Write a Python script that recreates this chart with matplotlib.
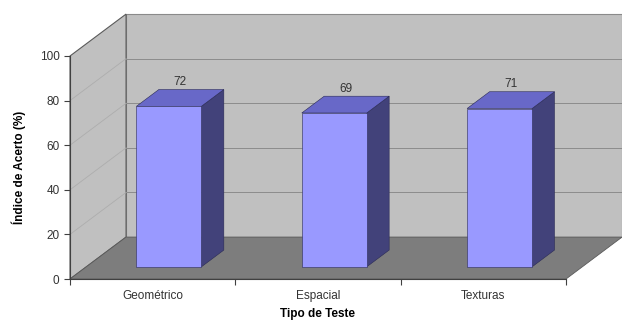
import matplotlib.pyplot as plt
from matplotlib.patches import Polygon

plt.rcParams['font.family'] = ['Liberation Sans', 'DejaVu Sans']

categories = ['Geométrico', 'Espacial', 'Texturas']
values = [72, 69, 71]
yticks = [0, 20, 40, 60, 80, 100]

# fake 3d depth (in data units) and bar placement
DX = 0.339
DY = 18.8
f0, f1 = 0.29, 0.69
bw = 0.393

fig = plt.figure(figsize=(6.22, 3.2), dpi=100)
ax = fig.add_axes([70 / 622, 41 / 320, 496 / 622, 223 / 320])
ax.set_xlim(0, 3)
ax.set_ylim(0, 100)
ax.patch.set_visible(False)

wall = '#c0c0c0'
n = len(categories)

### walls and floor ###
ax.add_patch(Polygon([(DX, DY), (n + DX, DY), (n + DX, 100 + DY), (DX, 100 + DY)],
                     closed=True, fc=wall, ec='#8a8a8a', lw=0.8, clip_on=False, zorder=0))
ax.add_patch(Polygon([(0, 0), (0, 100), (DX, 100 + DY), (DX, DY)],
                     closed=True, fc=wall, ec='#5a5a5a', lw=0.8, clip_on=False, zorder=0))
ax.add_patch(Polygon([(0, 0), (n, 0), (n + DX, DY), (DX, DY)],
                     closed=True, fc='#7d7d7d', ec='#5a5a5a', lw=0.6, clip_on=False, zorder=1))

### gridlines ###
for v in yticks[1:-1]:
    ax.plot([DX, n + DX], [v + DY, v + DY], color='#8c8c8c', lw=0.7, clip_on=False, zorder=0.5)
    ax.plot([0, DX], [v, v + DY], color='#adadad', lw=0.6, clip_on=False, zorder=0.5)

### bars ###
for i, v in enumerate(values):
    x0 = i + 0.5 - bw / 2 + f0 * DX
    x1 = x0 + bw
    y0 = f0 * DY
    ddx = (f1 - f0) * DX
    ddy = (f1 - f0) * DY
    front = [(x0, y0), (x1, y0), (x1, y0 + v), (x0, y0 + v)]
    side = [(x1, y0), (x1 + ddx, y0 + ddy), (x1 + ddx, y0 + v + ddy), (x1, y0 + v)]
    top = [(x0, y0 + v), (x1, y0 + v), (x1 + ddx, y0 + v + ddy), (x0 + ddx, y0 + v + ddy)]
    ax.add_patch(Polygon(side, closed=True, fc='#42427a', ec='#2a2a55', lw=0.4, clip_on=False, zorder=3))
    ax.add_patch(Polygon(top, closed=True, fc='#6868c8', ec='#2a2a55', lw=0.4, clip_on=False, zorder=3))
    ax.add_patch(Polygon(front, closed=True, fc='#9999ff', ec='#2a2a55', lw=0.4, clip_on=False, zorder=3))
    ax.annotate(str(v), (i + 0.5 + (f0 + f1) / 2 * DX, v + f1 * DY), xytext=(0, 1),
                textcoords='offset points', ha='center', va='bottom', fontsize=8.5,
                color='#333333', annotation_clip=False)

### axes styling ###
for s in ['top', 'right']:
    ax.spines[s].set_visible(False)
ax.spines['left'].set_color('#404040')
ax.spines['bottom'].set_color('#404040')
ax.spines['left'].set_zorder(5)
ax.spines['bottom'].set_zorder(5)
ax.set_yticks(yticks)
ax.set_xticks(range(n + 1))
ax.set_xticklabels([])
ax.set_xticks([i + 0.5 for i in range(n)], minor=True)
ax.set_xticklabels(categories, minor=True)
ax.tick_params(axis='x', which='minor', length=0, pad=8)
ax.tick_params(axis='both', which='major', length=4, color='#404040', labelsize=8.5, labelcolor='#333333')
ax.tick_params(axis='x', which='minor', labelsize=8.5, labelcolor='#333333')

ax.set_ylabel('Índice de Acerto (%)', fontsize=8.5, fontweight='bold', labelpad=10)
fig.text(318 / 622, 12.5 / 320, 'Tipo de Teste', ha='center', va='top', fontsize=8.5, fontweight='bold')

fig.savefig('out.png', dpi=100)
